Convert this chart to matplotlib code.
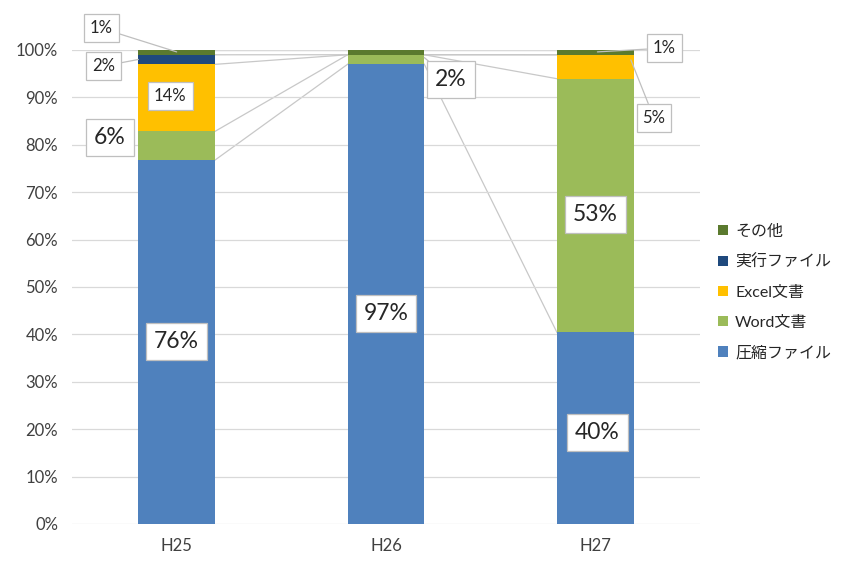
import matplotlib
matplotlib.use("Agg")
import matplotlib.pyplot as plt
import numpy as np
from matplotlib.ticker import PercentFormatter

plt.rcParams['font.family'] = ['Lato', 'Noto Sans CJK JP', 'DejaVu Sans']

categories = ["H25", "H26", "H27"]
series_names = ["圧縮ファイル", "Word文書", "Excel文書", "実行ファイル", "その他"]
compressed = [76, 97, 40]
word = [6, 2, 53]
excel = [14, 0, 5]
executable = [2, 0, 0]
other = [1, 1, 1]
colors = ["#4F81BD", "#9BBB59", "#FFC000", "#1F497D", "#5B7A2E"]

raw = np.array([compressed, word, excel, executable, other], dtype=float)
shares = raw / raw.sum(axis=0) * 100.0

fig = plt.figure(figsize=(8.42, 5.63), dpi=100)
ax = fig.add_axes([0.0855, 0.0693, 0.7458, 0.8419])

x = np.arange(len(categories))
width = 0.366
bottoms = np.zeros(len(categories))
tops = []
for i, name in enumerate(series_names):
    ax.bar(x, shares[i], width, bottom=bottoms, color=colors[i], label=name, zorder=2)
    bottoms = bottoms + shares[i]
    tops.append(bottoms.copy())

# series lines (Excel style) connecting segment tops between adjacent bars
for i in range(len(series_names)):
    for j in range(len(categories) - 1):
        ax.plot([x[j] + width / 2, x[j + 1] - width / 2], [tops[i][j], tops[i][j + 1]],
                color="#C8C8C8", lw=0.9, zorder=1.5)

ax.set_xlim(-0.5, 2.5)
ax.set_ylim(0, 100)
ax.set_yticks(np.arange(0, 101, 10))
ax.yaxis.set_major_formatter(PercentFormatter(decimals=0))
ax.set_xticks(x)
ax.set_xticklabels(categories)
ax.tick_params(axis='both', length=0, labelsize=12, colors="#404040")
ax.tick_params(axis='y', pad=10)
ax.tick_params(axis='x', pad=10)
ax.grid(axis='y', color="#D9D9D9", lw=0.9, zorder=0)
for s in ax.spines.values():
    s.set_visible(False)

# data labels: (series index, category index, x, y, fontsize, leader anchor or None)
labels = [
    (0, 0, 0.00, 38.5, 16.5, None),
    (1, 0, -0.32, 81.6, 16.5, None),
    (2, 0, -0.03, 90.3, 12, None),
    (3, 0, -0.35, 96.6, 12, (-0.183, 98.0)),
    (4, 0, -0.36, 104.6, 12, (0.0, 99.6)),
    (0, 1, 1.00, 44.5, 16.5, None),
    (1, 1, 1.31, 93.7, 16.5, (1.183, 98.4)),
    (1, 2, 2.00, 65.2, 16.5, None),
    (0, 2, 2.01, 19.4, 16.5, None),
    (4, 2, 2.33, 100.4, 12, (2.01, 99.6)),
    (2, 2, 2.28, 85.7, 12, (2.17, 97.9)),
]
for si, ci, lx, ly, fs, anchor in labels:
    txt = f"{int(raw[si][ci])}%"
    bbox = dict(boxstyle="square,pad=0.35", fc="white", ec="#BFBFBF", lw=0.9)
    if anchor is None:
        ax.text(lx, ly, txt, ha="center", va="center", fontsize=fs, color="#262626",
                bbox=bbox, zorder=5, clip_on=False)
    else:
        ax.annotate(txt, xy=anchor, xytext=(lx, ly), ha="center", va="center",
                    fontsize=fs, color="#262626", bbox=bbox, zorder=5,
                    annotation_clip=False,
                    arrowprops=dict(arrowstyle="-", color="#BFBFBF", lw=0.9,
                                    shrinkA=0, shrinkB=0))

handles, labs = ax.get_legend_handles_labels()
leg = fig.legend(handles[::-1], labs[::-1], loc="center left",
                 bbox_to_anchor=(0.84, 0.481), frameon=False, fontsize=11.5,
                 handlelength=0.6, handleheight=0.6, handletextpad=0.45,
                 labelspacing=1.0, labelcolor="#262626", borderpad=0.2)

fig.savefig("out.png", dpi=100, facecolor="white")
